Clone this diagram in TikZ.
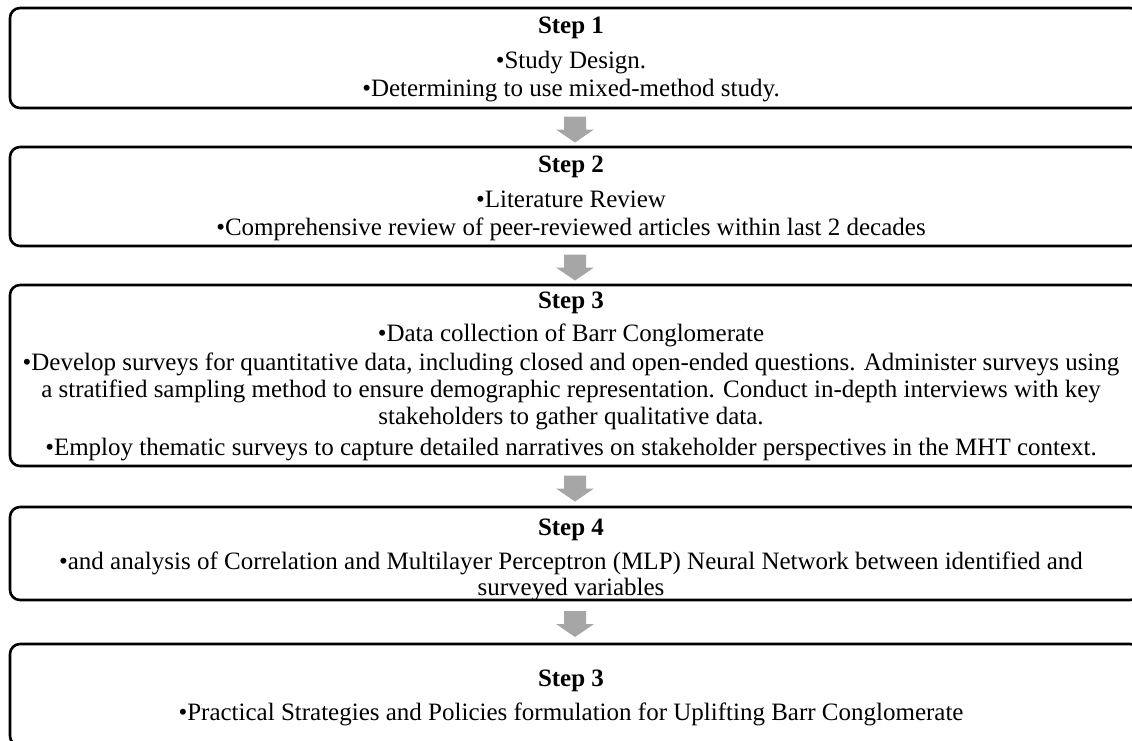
\documentclass[tikz,border=0pt]{standalone}
\usepackage{fontspec}
\setmainfont{Liberation Serif}
\usetikzlibrary{calc}
\definecolor{arrowgray}{RGB}{166,166,166}
\tikzset{
  box/.style={draw=black, line width=2.6pt, rounded corners=10pt, minimum width=1130pt, inner sep=0pt},
  txt/.style={anchor=base, inner sep=0pt, font=\fontsize{25}{26}\selectfont},
  head/.style={anchor=base, inner sep=0pt, font=\fontsize{25}{26}\selectfont\bfseries},
  blockarrow/.style={fill=arrowgray, draw=none}
}
\newcommand{\flowarrow}[1]{%
  \fill[blockarrow] ($(#1)+(-11,-11)$) -- ($(#1)+(11,-11)$) -- ($(#1)+(11,2)$) -- ($(#1)+(19,2)$)
    -- ($(#1)+(0,15)$) -- ($(#1)+(-19,2)$) -- ($(#1)+(-11,2)$) -- cycle;}
\begin{document}
\begin{tikzpicture}[x=1pt,y=-1pt]
\useasboundingbox (0,0) rectangle (1132,740);
% boxes
\node[box, minimum height=100pt] (b1) at (575,58) {};
\node[box, minimum height=99pt]  (b2) at (575,196.5) {};
\node[box, minimum height=181pt] (b3) at (575,375.5) {};
\node[box, minimum height=93pt]  (b4) at (575,553.5) {};
\node[box, minimum height=102pt] (b5) at (575,695) {};
% arrows between boxes
\path (b1.south) -- (b2.north) coordinate[pos=0.5] (m12);
\path (b2.south) -- (b3.north) coordinate[pos=0.5] (m23);
\path (b3.south) -- (b4.north) coordinate[pos=0.5] (m34);
\path (b4.south) -- (b5.north) coordinate[pos=0.5] (m45);
\flowarrow{m12}
\flowarrow{m23}
\flowarrow{m34}
\flowarrow{m45}
% box 1
\node[head] (t1h) at (571,33) {Step 1};
\node[txt] (t1a) at (571,68) {•Study Design.};
\node[txt] (t1b) at (571,96) {•Determining to use mixed-method study.};
% box 2
\node[head] (t2h) at (571,172) {Step 2};
\node[txt] (t2a) at (571,207) {•Literature Review};
\node[txt] (t2b) at (571,235) {•Comprehensive review of peer-reviewed articles within last 2 decades};
% box 3
\node[head] (t3h) at (571,308) {Step 3};
\node[txt] (t3a) at (571,341) {•Data collection of Barr Conglomerate};
\node[txt] (t3b) at (571,370) {•Develop surveys for quantitative data, including closed and open-ended questions. Administer surveys using};
\node[txt] (t3c) at (571,397) {a stratified sampling method to ensure demographic representation. Conduct in-depth interviews with key};
\node[txt] (t3d) at (571,424) {stakeholders to gather qualitative data.};
\node[txt] (t3e) at (571,455) {•Employ thematic surveys to capture detailed narratives on stakeholder perspectives in the MHT context.};
% box 4
\node[head] (t4h) at (571,535) {Step 4};
\node[txt] (t4a) at (571,569) {•and analysis of Correlation and Multilayer Perceptron (MLP) Neural Network between identified and};
\node[txt] (t4b) at (571,595) {surveyed variables};
% box 5
\node[head] (t5h) at (571,686) {Step 3};
\node[txt] (t5a) at (571,720) {•Practical Strategies and Policies formulation for Uplifting Barr Conglomerate};
\end{tikzpicture}
\end{document}
